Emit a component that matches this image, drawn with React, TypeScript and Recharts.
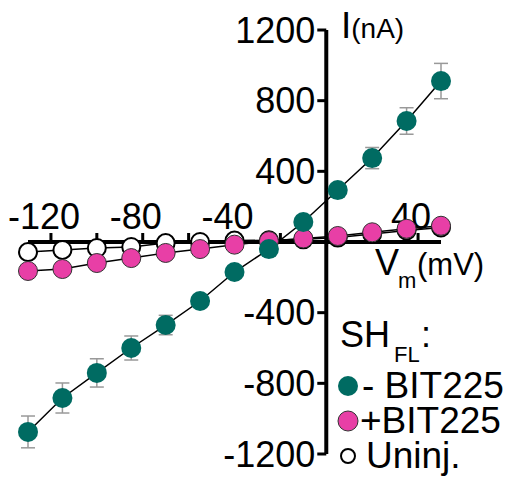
import React from "react";
import { LineChart, Line, XAxis, YAxis, ReferenceLine, ReferenceDot, ErrorBar } from "recharts";

// membrane voltage steps (mV)
const voltages = [-130, -115, -100, -85, -70, -55, -40, -25, -10, 5, 20, 35, 50];
// current (nA) per group
const minusBit = [-1075, -883, -741, -600, -470, -334, -170, -40, 113, 294, 475, 685, 911];
const minusBitErr = [90, 85, 80, 68, 55, 35, 25, 20, 20, 30, 60, 75, 100];
const plusBit = [-164, -153, -119, -91, -62, -40, -15, 5, 20, 34, 55, 75, 92];
const uninj = [-57, -45, -34, -28, -6, 0, 8, 10, 15, 25, 45, 65, 82];

const xTicks = [-120, -100, -80, -60, -40, -20, 20, 40];
const xTickLabels = ["-120", "", "-80", "", "-40", "", "", "40"];
const yTicks = [1200, 800, 400, -400, -800, -1200];

const TEAL = "#006b62";
const PINK = "#e83fa6";
const FONT = "'Liberation Sans', Arial, sans-serif";

const data = voltages.map((v, i) => ({
  v,
  minus: minusBit[i],
  minusErr: minusBitErr[i],
  plus: plusBit[i],
  uninj: uninj[i],
}));

const yTickShape = (label: string) => (props: any) => {
  const { cx, cy } = props;
  return (
    <g>
      <line x1={cx - 9} x2={cx} y1={cy} y2={cy} stroke="#000" strokeWidth={3} />
      <text x={cx - 11} y={cy + 12.5} textAnchor="end" fontSize={36} fontFamily={FONT} fill="#000">
        {label}
      </text>
    </g>
  );
};

const xTickShape = (label: string) => (props: any) => {
  const { cx, cy } = props;
  return (
    <g>
      <line x1={cx} x2={cx} y1={cy} y2={cy - 9} stroke="#000" strokeWidth={3} />
      {label && (
        <text x={cx - 7} y={cy - 13} textAnchor="middle" fontSize={36} fontFamily={FONT} fill="#000">
          {label}
        </text>
      )}
    </g>
  );
};

export default function App() {
  return (
    <div style={{ position: "relative", width: 516, height: 479, background: "#fff" }}>
      <style>{`body{margin:0}`}</style>
      <LineChart width={516} height={479} data={data} margin={{ top: 30, right: 75, bottom: 25, left: 28 }}>
        <XAxis dataKey="v" type="number" domain={[-130, 50]} hide />
        <YAxis type="number" domain={[-1200, 1200]} hide />
        <ReferenceLine x={0} stroke="#000" strokeWidth={4} />
        <ReferenceLine y={0} stroke="#000" strokeWidth={4} />
        {yTicks.map((t) => (
          <ReferenceDot key={"y" + t} x={0} y={t} r={0} ifOverflow="visible" shape={yTickShape(String(t))} />
        ))}
        {xTicks.map((t, i) => (
          <ReferenceDot key={"x" + t} x={t} y={0} r={0} ifOverflow="visible" shape={xTickShape(xTickLabels[i])} />
        ))}
        <Line
          dataKey="uninj"
          stroke="#000"
          strokeWidth={1.5}
          dot={{ r: 9, fill: "#fff", stroke: "#000", strokeWidth: 2 }}
          isAnimationActive={false}
        />
        <Line
          dataKey="plus"
          stroke="#000"
          strokeWidth={1.5}
          dot={{ r: 9.5, fill: PINK, stroke: "#333", strokeWidth: 1 }}
          isAnimationActive={false}
        />
        <Line
          dataKey="minus"
          stroke="#000"
          strokeWidth={1.5}
          dot={{ r: 10, fill: TEAL, stroke: "none" }}
          isAnimationActive={false}
        >
          <ErrorBar dataKey="minusErr" stroke="#999" strokeWidth={1.5} width={7} />
        </Line>
      </LineChart>
      <svg
        width={516}
        height={479}
        style={{ position: "absolute", left: 0, top: 0, pointerEvents: "none" }}
        fontFamily={FONT}
      >
        <text x={341} y={38} fontSize={37} fill="#000">
          I<tspan fontSize={28}>(nA)</tspan>
        </text>
        <text x={375} y={275} fontSize={36} fill="#000">V</text>
        <text x={398} y={288} fontSize={22} fill="#000">m</text>
        <text x={417} y={275} fontSize={31} fill="#000">(mV)</text>

        <text x={340} y={347} fontSize={36} fill="#000">SH</text>
        <text x={394} y={362} fontSize={22} fill="#000">FL</text>
        <text x={421} y={347} fontSize={36} fill="#000">:</text>

        <circle cx={348} cy={386} r={10} fill={TEAL} />
        <text x={362} y={398} fontSize={37} fill="#000">- BIT225</text>
        <circle cx={348} cy={421} r={10} fill={PINK} stroke="#333" strokeWidth={1} />
        <text x={360} y={433} fontSize={37} fill="#000">+BIT225</text>
        <circle cx={348} cy={456} r={7} fill="#fff" stroke="#000" strokeWidth={2} />
        <text x={366} y={468} fontSize={37} fill="#000">Uninj.</text>
      </svg>
    </div>
  );
}
